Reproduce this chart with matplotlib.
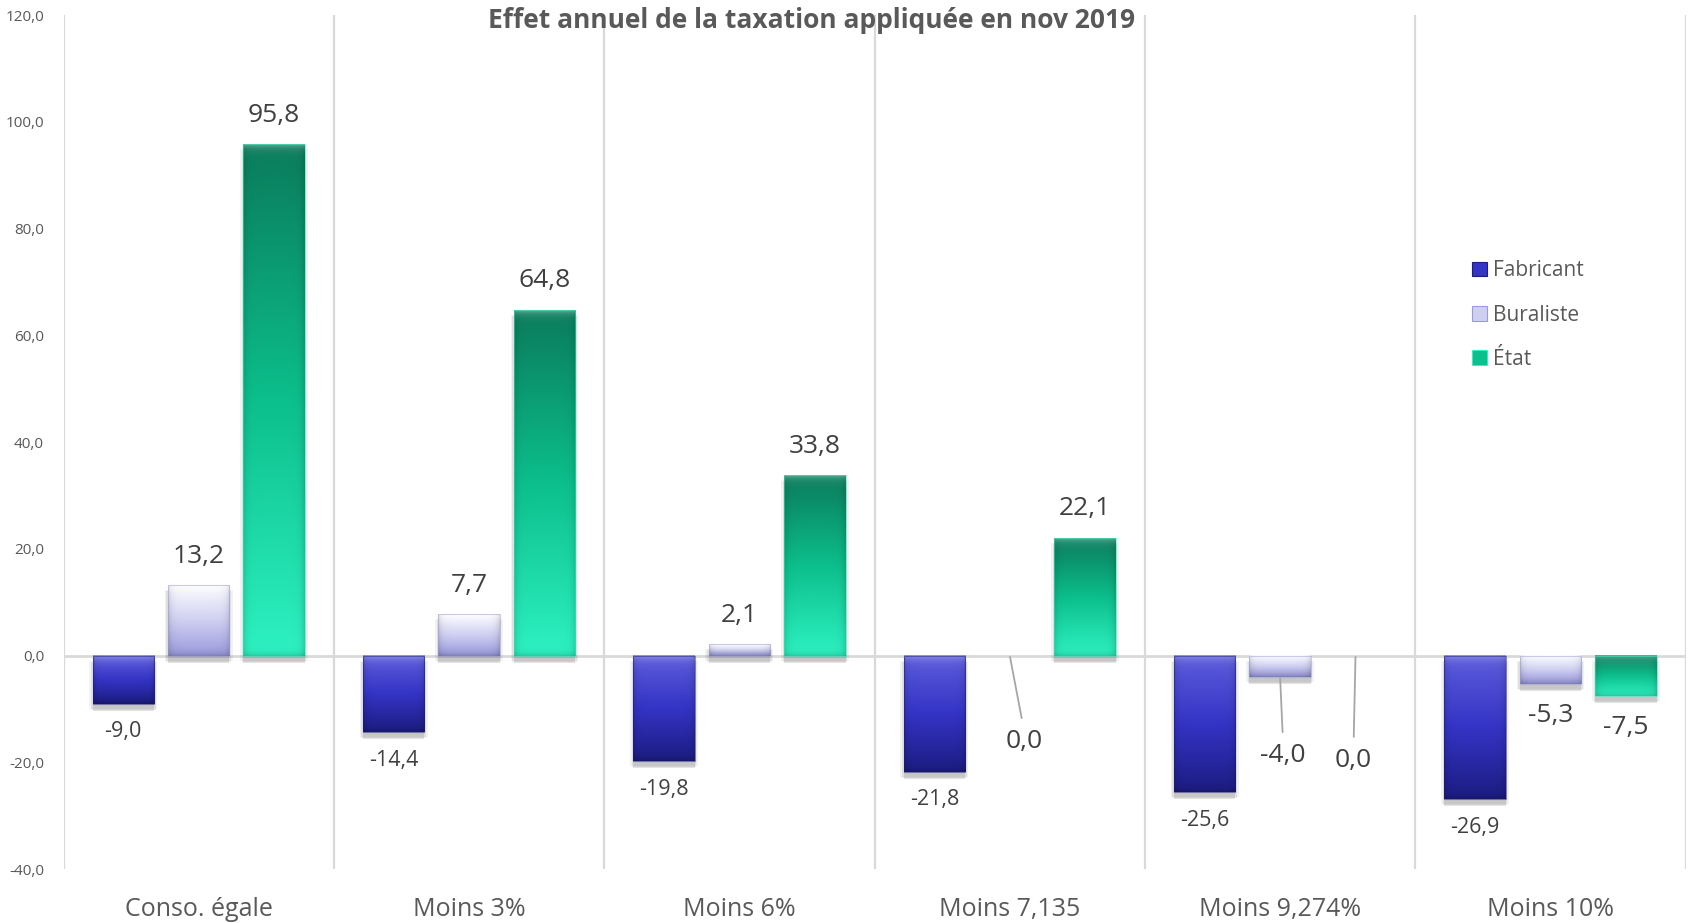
import numpy as np
import matplotlib
matplotlib.use("Agg")
import matplotlib.pyplot as plt
from matplotlib.patches import Rectangle, Patch
from matplotlib.colors import to_rgb
from matplotlib.transforms import offset_copy

plt.rcParams["font.family"] = ["Open Sans", "DejaVu Sans"]

# données
categories = ["Conso. égale", "Moins 3%", "Moins 6%", "Moins 7,135", "Moins 9,274%", "Moins 10%"]
series_names = ["Fabricant", "Buraliste", "État"]
fabricant = [-9.0, -14.4, -19.8, -21.8, -25.6, -26.9]
buraliste = [13.2, 7.7, 2.1, 0.0, -4.0, -5.3]
etat = [95.8, 64.8, 33.8, 22.1, 0.0, -7.5]
yticks = [-40, -20, 0, 20, 40, 60, 80, 100, 120]

# dégradés haut -> bas pour chaque série
GRADIENTS = [
    ["#5c5cdc", "#3434c6", "#1c1c82"],
    ["#fcfcff", "#cfcff2", "#9a9ade"],
    ["#0a7b5b", "#0cbf8c", "#2ef2c2"],
]
LABEL_SIZE = [15.5, 19, 19]
TEXT_GREY = "#595959"
LABEL_GREY = "#404040"
GRID_GREY = "#d9d9d9"

# étiquettes déplacées à la main (décalage en pixels depuis le bout de la barre)
MANUAL_LABELS = {
    (1, 3): (14, -86),
    (1, 4): (3, -79),
    (2, 4): (-2, -105),
}

BAR_W = 0.227
STEP = 0.279


def fmt(v):
    return f"{v:.1f}".replace(".", ",")


def bar_image(stops, h_px):
    n = max(int(h_px), 8)
    t = np.linspace(0, 1, n)
    cols = np.array([to_rgb(c) for c in stops])
    w = 60
    img = np.empty((n, w, 3))
    for k in range(3):
        img[:, :, k] = np.interp(t, [0, 0.5, 1], cols[:, k])[:, None]
    # bords latéraux un peu plus sombres
    xs = np.arange(w)
    edge = np.minimum(xs, w - 1 - xs)
    side = 1 - 0.14 * np.exp(-edge / 3.0)
    img *= side[None, :, None]
    # biseau clair en haut, léger assombrissement en bas
    rows = np.arange(n)
    light = 0.35 * np.exp(-rows / 4.0)
    img = img * (1 - light[:, None, None]) + light[:, None, None]
    dark = 0.15 * np.exp(-(n - 1 - rows) / 3.0)
    img = img * (1 - dark[:, None, None])
    return np.clip(img, 0, 1)


fig = plt.figure(figsize=(16.9, 9.23), dpi=100)
ax = fig.add_axes([0.0376, 0.0585, 0.9598, 0.9252])
ax.set_xlim(-0.5, len(categories) - 0.5)
ax.set_ylim(-40, 120)

px_per_unit = 0.9252 * 923 / 160.0
data = [fabricant, buraliste, etat]

for j, vals in enumerate(data):
    for i, v in enumerate(vals):
        x = i + (j - 1) * STEP
        left = x - BAR_W / 2
        if v != 0:
            # ombre portée
            for k, (grow, a) in enumerate([(0.012, 0.05), (0.006, 0.07), (0.0, 0.11)]):
                sh = offset_copy(ax.transData, fig=fig, x=0, y=-5 - k, units="dots")
                ax.add_patch(Rectangle((left - grow, min(0, v)), BAR_W + 2 * grow, abs(v),
                                       transform=sh, color="#000000", alpha=a, lw=0, zorder=2))
            img = bar_image(GRADIENTS[j], abs(v) * px_per_unit)
            ax.imshow(img, extent=(left, left + BAR_W, min(0, v), max(0, v)),
                      origin="upper", aspect="auto", zorder=3, interpolation="bilinear")
            ax.add_patch(Rectangle((left, min(0, v)), BAR_W, abs(v), fill=False,
                                   ec=GRADIENTS[j][2], lw=0.8, alpha=0.5, zorder=4))

        # étiquette de valeur
        if (j, i) in MANUAL_LABELS:
            dx, dy = MANUAL_LABELS[(j, i)]
            ax.annotate(fmt(v), xy=(x, v), xytext=(dx, dy), textcoords="offset pixels",
                        ha="center", va="center", fontsize=LABEL_SIZE[j], color=LABEL_GREY,
                        arrowprops=dict(arrowstyle="-", color="#a6a6a6", lw=1.3,
                                        relpos=(0.5, 1.0), shrinkA=6, shrinkB=1),
                        zorder=5)
        else:
            if v > 0:
                dy = 29
            else:
                dy = -28 if j == 0 else -32
            ax.annotate(fmt(v), xy=(x, v), xytext=(0, dy), textcoords="offset pixels",
                        ha="center", va="center", fontsize=LABEL_SIZE[j], color=LABEL_GREY,
                        zorder=5)

# grille verticale entre catégories et ligne du zéro
for b in np.arange(-0.5, len(categories), 1.0):
    ax.axvline(b, color=GRID_GREY, lw=1.6, zorder=1)
ax.axhline(0, color=GRID_GREY, lw=2.0, zorder=1)

for s in ax.spines.values():
    s.set_visible(False)
ax.set_yticks(yticks)
ax.set_yticklabels([fmt(t) for t in yticks], fontsize=11, color=TEXT_GREY)
ax.set_xticks(range(len(categories)))
ax.set_xticklabels(categories, fontsize=18, color=TEXT_GREY)
ax.tick_params(axis="y", length=0, pad=14)
ax.tick_params(axis="x", length=0, pad=20)

handles = [Patch(facecolor=GRADIENTS[j][1], edgecolor=GRADIENTS[j][2], lw=0.8) for j in range(3)]
leg = ax.legend(handles, series_names, loc="upper left",
                bbox_to_anchor=(1462 / 1690, 1 - 250 / 923), bbox_transform=fig.transFigure,
                frameon=False, fontsize=15, handlelength=0.7, handleheight=0.7,
                handletextpad=0.3, labelspacing=1.12, borderpad=0)
for t in leg.get_texts():
    t.set_color(TEXT_GREY)

fig.text(812 / 1690, 1 - 20 / 923, "Effet annuel de la taxation appliquée en nov 2019",
         ha="center", va="center", fontsize=19, fontweight="bold", color=TEXT_GREY)

fig.savefig("out.png", dpi=100)
